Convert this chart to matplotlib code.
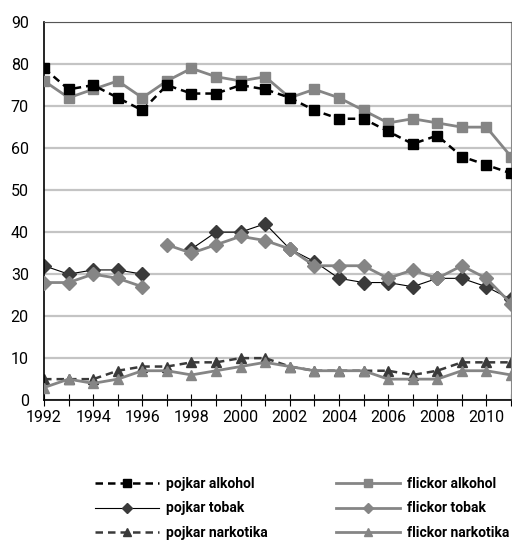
import numpy as np
import matplotlib
matplotlib.use("Agg")
import matplotlib.pyplot as plt
from matplotlib.ticker import MultipleLocator

# no condensed font installed, Roboto is the narrowest available
plt.rcParams['font.family'] = ['Roboto', 'DejaVu Sans']
fs = 11.5

################################### DATA #############################################
years = list(range(1992, 2012))
nan = np.nan

pojkar_alkohol = [79, 74, 75, 72, 69, 75, 73, 73, 75, 74, 72, 69, 67, 67, 64, 61, 63, 58, 56, 54]
flickor_alkohol = [76, 72, 74, 76, 72, 76, 79, 77, 76, 77, 72, 74, 72, 69, 66, 67, 66, 65, 65, 58]
pojkar_tobak = [32, 30, 31, 31, 30, nan, 36, 40, 40, 42, 36, 33, 29, 28, 28, 27, 29, 29, 27, 24]
flickor_tobak = [28, 28, 30, 29, 27, 37, 35, 37, 39, 38, 36, 32, 32, 32, 29, 31, 29, 32, 29, 23]
pojkar_narkotika = [5, 5, 5, 7, 8, 8, 9, 9, 10, 10, 8, 7, 7, 7, 7, 6, 7, 9, 9, 9]
flickor_narkotika = [3, 5, 4, 5, 7, 7, 6, 7, 8, 9, 8, 7, 7, 7, 5, 5, 5, 7, 7, 6]

# flickor tobak has a break between 1996 and 1997
flickor_tobak_a = flickor_tobak[:5] + [nan] * 15
flickor_tobak_b = [nan] * 5 + flickor_tobak[5:]
######################################################################################

fig = plt.figure(figsize=(5.12, 5.4), dpi=100)
ax = fig.add_axes([0.086, 0.259, 0.912, 0.700])

grey = "#858585"
dark = "#3a3a3a"

ax.grid(axis="y", color="#c4c4c4", lw=1.6, zorder=0)
ax.set_axisbelow(True)

ax.plot(years, flickor_alkohol, color=grey, lw=2, marker="s", ms=7.5, label="flickor alkohol", zorder=3)
ax.plot(years, flickor_tobak_a, color=grey, lw=2, marker="D", ms=7.5, zorder=3)
ax.plot(years, flickor_tobak_b, color=grey, lw=2, marker="D", ms=7.5, label="flickor tobak", zorder=3)
ax.plot(years, flickor_narkotika, color=grey, lw=2, marker="^", ms=7.5, label="flickor narkotika", zorder=3)

ax.plot(years, pojkar_alkohol, color="black", lw=1.8, ls=(0, (3, 2)), marker="s", ms=7.5,
        label="pojkar alkohol", zorder=4)
ax.plot(years, pojkar_tobak, color="black", lw=0.8, marker="D", ms=7.5, mfc=dark, mec=dark,
        label="pojkar tobak", zorder=2)
ax.plot(years, pojkar_narkotika, color=dark, lw=1.8, ls=(0, (3, 2)), marker="^", ms=7.5,
        label="pojkar narkotika", zorder=2)

ax.set_xlim(1992, 2011)
ax.set_ylim(0, 90)
ax.yaxis.set_major_locator(MultipleLocator(10))
ax.xaxis.set_major_locator(MultipleLocator(2))
ax.xaxis.set_minor_locator(MultipleLocator(1))
ax.tick_params(axis="x", which="both", direction="inout", length=8, width=0.8, labelsize=fs, pad=3)
ax.tick_params(axis="y", length=0, labelsize=fs, pad=11)

for s in ["left", "bottom"]:
    ax.spines[s].set_color("black")
    ax.spines[s].set_linewidth(1.2)
ax.spines["top"].set_color("#555555")
ax.spines["right"].set_color("#888888")

h, l = ax.get_legend_handles_labels()
left_names = ["pojkar alkohol", "pojkar tobak", "pojkar narkotika"]
right_names = ["flickor alkohol", "flickor tobak", "flickor narkotika"]
kw = dict(frameon=False, handlelength=4.6, markerscale=0.7, labelspacing=0.75,
          borderpad=0, borderaxespad=0, handletextpad=0.5,
          prop={"weight": "bold", "size": 10})
leg1 = fig.legend([h[l.index(n)] for n in left_names], left_names, loc="upper left",
                  bbox_to_anchor=(95 / 512, 1 - 477 / 540), **kw)
leg2 = fig.legend([h[l.index(n)] for n in right_names], right_names, loc="upper left",
                  bbox_to_anchor=(336 / 512, 1 - 477 / 540), **kw)

fig.savefig("out.png", dpi=100)
